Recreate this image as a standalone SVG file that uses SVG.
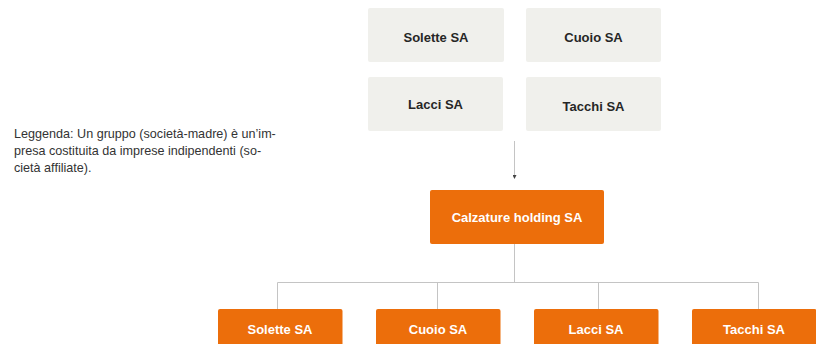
<svg xmlns="http://www.w3.org/2000/svg" width="816" height="344" viewBox="0 0 816 344">
<defs>
<style>
.gbox{fill:#f0f0ec}
.obox{fill:#ec6e0b}
.gt{font-family:"Liberation Sans",Arial,sans-serif;font-weight:bold;font-size:13px;fill:#262626;text-anchor:middle}
.ot{font-family:"Liberation Sans",Arial,sans-serif;font-weight:bold;font-size:13px;fill:#ffffff;text-anchor:middle}
.leg{font-family:"Liberation Sans",Arial,sans-serif;font-size:12.6px;fill:#333333}
.ln{stroke:#c4c4c4;stroke-width:1;fill:none}
</style>
<marker id="arr" viewBox="0 0 4 4" refX="2" refY="2" markerWidth="4" markerHeight="4" orient="auto" markerUnits="userSpaceOnUse">
<path d="M0,0 L4,2 L0,4 Z" fill="#444"/>
</marker>
</defs>
<rect width="816" height="344" fill="#ffffff"/>
<g id="legend">
<text class="leg" x="14" y="138">Leggenda: Un gruppo (società-madre) è un’im-</text>
<text class="leg" x="14" y="155">presa costituita da imprese indipendenti (so-</text>
<text class="leg" x="14" y="172">cietà affiliate).</text>
</g>
<g id="connectors">
<line class="ln" x1="514.5" y1="141" x2="514.5" y2="177" marker-end="url(#arr)"/>
<line class="ln" x1="514.5" y1="244" x2="514.5" y2="282.5"/>
<polyline class="ln" points="277.5,309 277.5,282.5 758.5,282.5 758.5,309"/>
<line class="ln" x1="437.5" y1="282.5" x2="437.5" y2="309"/>
<line class="ln" x1="598.5" y1="282.5" x2="598.5" y2="309"/>
</g>
<g id="top-solette">
<rect class="gbox" x="368" y="8" width="136" height="54" rx="2"/>
<text class="gt" x="436" y="42">Solette SA</text>
</g>
<g id="top-cuoio">
<rect class="gbox" x="526" y="8" width="135" height="54" rx="2"/>
<text class="gt" x="593.5" y="42">Cuoio SA</text>
</g>
<g id="top-lacci">
<rect class="gbox" x="368" y="77" width="135" height="54" rx="2"/>
<text class="gt" x="435.5" y="109">Lacci SA</text>
</g>
<g id="top-tacchi">
<rect class="gbox" x="526" y="77" width="135" height="54" rx="2"/>
<text class="gt" x="593.5" y="111">Tacchi SA</text>
</g>
<g id="holding">
<rect class="obox" x="430" y="190" width="174" height="54" rx="2"/>
<text class="ot" x="517" y="222">Calzature holding SA</text>
</g>
<g id="sub-solette">
<rect class="obox" x="218" y="309" width="124.5" height="54" rx="2"/>
<text class="ot" x="280" y="334">Solette SA</text>
</g>
<g id="sub-cuoio">
<rect class="obox" x="376" y="309" width="124.5" height="54" rx="2"/>
<text class="ot" x="438" y="334">Cuoio SA</text>
</g>
<g id="sub-lacci">
<rect class="obox" x="534" y="309" width="124.5" height="54" rx="2"/>
<text class="ot" x="596" y="334">Lacci SA</text>
</g>
<g id="sub-tacchi">
<rect class="obox" x="692" y="309" width="124.5" height="54" rx="2"/>
<text class="ot" x="754" y="334">Tacchi SA</text>
</g>
</svg>
